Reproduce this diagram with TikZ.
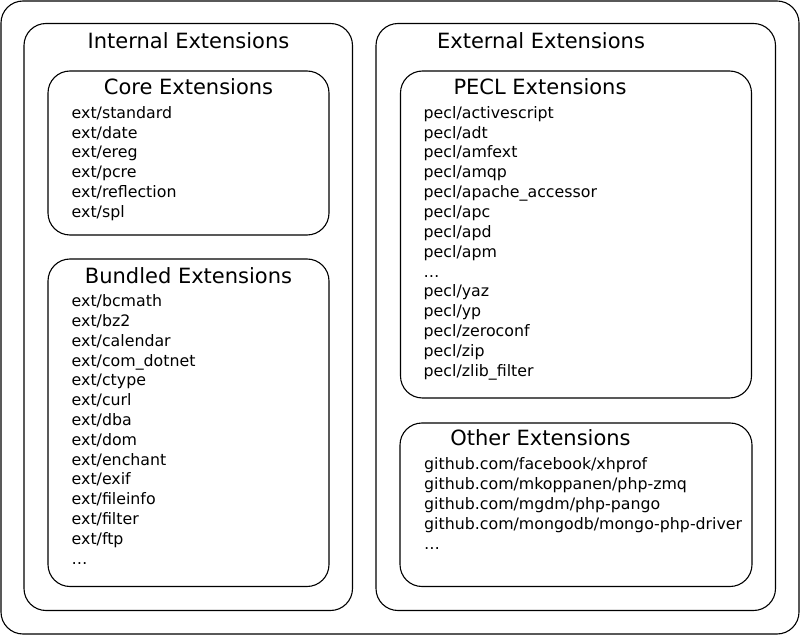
\documentclass[tikz,border=0pt]{standalone}
\usepackage{fontspec}
\setmainfont{DejaVu Sans}
\begin{document}
\begin{tikzpicture}[x=1pt,y=-1pt,
  box/.style={draw=black, line width=1.1pt, rounded corners=22pt, fill=white},
  ttl/.style={font=\fontsize{21}{25}\selectfont, anchor=base, inner sep=0pt},
  itm/.style={font=\fontsize{15.8}{19}\selectfont, anchor=base west, inner sep=0pt}]
\useasboundingbox (0,0) rectangle (801,636);
% containers
\draw[box] (1,1) rectangle (799,634);
\draw[box] (24,23.5) rectangle (352.5,610.5);
\draw[box] (376,23.5) rectangle (775.5,610.5);
\draw[box] (48,71) rectangle (329,235);
\draw[box] (48,259) rectangle (329,586.5);
\draw[box] (400.5,71) rectangle (751.5,398);
\draw[box] (400,423) rectangle (752,586.5);
% titles
\node[ttl] (tint) at (188.5,48.3) {Internal Extensions};
\node[ttl] (text) at (541,48.3) {External Extensions};
\node[ttl] (tcore) at (188.5,95) {Core Extensions};
\node[ttl] (tbund) at (188.5,283.3) {Bundled Extensions};
\node[ttl] (tpecl) at (540,95) {PECL Extensions};
\node[ttl] (tother) at (540.5,446) {Other Extensions};
% lists
\foreach \t [count=\i] in {ext/standard,ext/date,ext/ereg,ext/pcre,ext/reflection,ext/spl}
  \node[itm] (core\i) at (71.5,{118.3+19.85*(\i-1)}) {\t};
\foreach \t [count=\i] in {ext/bcmath,ext/bz2,ext/calendar,ext/com\_dotnet,ext/ctype,ext/curl,ext/dba,ext/dom,ext/enchant,ext/exif,ext/fileinfo,ext/filter,ext/ftp,\ldots}
  \node[itm] (bund\i) at (71.5,{306.7+19.8*(\i-1)}) {\t};
\foreach \t [count=\i] in {pecl/activescript,pecl/adt,pecl/amfext,pecl/amqp,pecl/apache\_accessor,pecl/apc,pecl/apd,pecl/apm,\ldots,pecl/yaz,pecl/yp,pecl/zeroconf,pecl/zip,pecl/zlib\_filter}
  \node[itm] (pecl\i) at (423.5,{118.3+19.85*(\i-1)}) {\t};
\foreach \t [count=\i] in {github.com/facebook/xhprof,github.com/mkoppanen/php-zmq,github.com/mgdm/php-pango,github.com/mongodb/mongo-php-driver,\ldots}
  \node[itm] (other\i) at (424,{469.3+20*(\i-1)}) {\t};
\end{tikzpicture}
\end{document}
